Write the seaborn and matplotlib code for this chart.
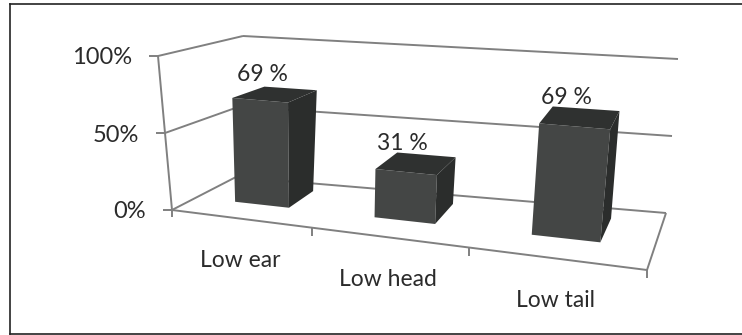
import numpy as np
import matplotlib
matplotlib.use("Agg")
import matplotlib.pyplot as plt
from matplotlib.patches import Polygon
from matplotlib.transforms import Affine2D, Transform
import seaborn as sns

categories = ["Low ear", "Low head", "Low tail"]
values = [69, 31, 69]
value_labels = ["69 %", "31 %", "69 %"]
y_ticks = [0, 50, 100]
y_tick_labels = ["0%", "50%", "100%"]

W, H = 742, 335
# corners of the chart box in image pixels: [x end][value end][depth end]
corners = np.array([
    [[(172, 210), (236, 177)], [(158, 56), (243, 36)]],
    [[(647, 270), (666, 213)], [(667, 97), (678, 59)]],
], dtype=float)
warp = 1.2
bar_d0, bar_d1 = 0.38, 0.82
label_nudge = (-14, -19)
front_col, side_col, top_col = "#444645", "#2b2d2c", "#2f3130"
line_col = "#808080"
text_col = "#2b2b2b"


def project(x, v, d):
    x, v = np.asarray(x, float), np.asarray(v, float)
    u = (x + 0.5) / len(categories)
    t = u / (u + warp * (1 - u))
    s = v / 100
    pts = 0
    for i, wi in enumerate([1 - t, t]):
        for j, wj in enumerate([1 - s, s]):
            for k, wk in enumerate([1 - d, d]):
                pts = pts + (wi * wj * wk)[..., None] * corners[i, j, k]
    return pts


class BoxProjection(Transform):
    input_dims = 2
    output_dims = 2

    def __init__(self, box_depth):
        super().__init__()
        self.box_depth = box_depth

    def transform_non_affine(self, xy):
        xy = np.asarray(xy, float)
        return project(xy[:, 0], xy[:, 1], self.box_depth)


sns.set_theme(style="white")
plt.rcParams["font.family"] = ["Lato", "DejaVu Sans"]

fig = plt.figure(figsize=(W / 100, H / 100), dpi=100, facecolor="white")
ax = fig.add_axes([9.5 / W, 1 - 333.5 / H, 733 / W, 329.5 / H])
sns.barplot(x=categories, y=values, width=0.4, color=front_col, saturation=1,
            edgecolor="none", linewidth=0, ax=ax)
ax.set_xticks([])
ax.set_yticks([])
ax.set_xlabel("")
ax.set_ylabel("")
ax.set_xlim(-0.5, 2.5)
ax.set_ylim(0, 100)
ax.spines["right"].set_visible(False)
for sp in ax.spines.values():
    sp.set_color("#222222")
    sp.set_linewidth(1.2)

px = Affine2D().scale(1 / W, -1 / H).translate(0, 1) + fig.transFigure


def seg(a, b, **kw):
    ax.plot([a[0], b[0]], [a[1], b[1]], transform=px, color=line_col, lw=1.4,
            clip_on=False, solid_capstyle="butt", zorder=1, **kw)


x0, x1 = -0.5, 2.5
for v, lab in zip(y_ticks, y_tick_labels):
    a, b, c = project(x0, v, 0.0), project(x0, v, 1.0), project(x1, v, 1.0)
    seg(a, b)
    seg(b, c)
    seg(a + [-9, 0], a)
    ax.text(a[0] - 26, a[1] + 2, lab, transform=px, ha="right", va="center",
            fontsize=17, color=text_col)
seg(project(x0, 0, 0.0), project(x0, 100, 0.0))
seg(project(x0, 0, 0.0), project(x1, 0, 0.0))
seg(project(x1, 0, 0.0), project(x1, 0, 1.0))
seg(project(x0, 0, 0.0), project(x0, 0, 0.0) + [0, 7])
for i in range(len(categories)):
    p = project(i + 0.5, 0, 0.0)
    seg(p, p + [0, 8])
    c = project(i, 0, 0.0)
    ax.text(c[0], c[1] + 42, categories[i], transform=px, ha="center", va="center",
            fontsize=16.5, color=text_col)

front = BoxProjection(bar_d0) + px
for patch, lab in zip(list(ax.patches), value_labels):
    left, right = patch.get_x(), patch.get_x() + patch.get_width()
    top = patch.get_height()
    patch.set_transform(front)
    patch.set_clip_on(False)
    patch.set_zorder(3)
    side = [project(right, 0, bar_d0), project(right, top, bar_d0),
            project(right, top, bar_d1), project(right, 0, bar_d1)]
    lid = [project(left, top, bar_d0), project(right, top, bar_d0),
           project(right, top, bar_d1), project(left, top, bar_d1)]
    ax.add_patch(Polygon(side, closed=True, transform=px, facecolor=side_col,
                         edgecolor="none", clip_on=False, zorder=3))
    ax.add_patch(Polygon(lid, closed=True, transform=px, facecolor=top_col,
                         edgecolor="none", clip_on=False, zorder=3))
    c = project((left + right) / 2, top, 0.62) + label_nudge
    ax.text(c[0], c[1], lab, transform=px, ha="center", va="center",
            fontsize=16.5, color=text_col)

fig.savefig("out.png", dpi=100)
